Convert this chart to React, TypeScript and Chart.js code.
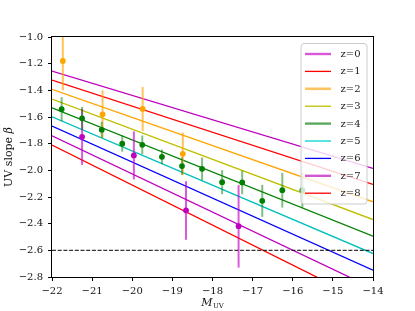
import React, { useEffect, useRef } from "react";
import { Chart, registerables } from "chart.js";

Chart.register(...registerables);

// ---- data ----
const xTicks = [-22, -21, -20, -19, -18, -17, -16, -15, -14];
const yTicks = [-2.8, -2.6, -2.4, -2.2, -2.0, -1.8, -1.6, -1.4, -1.2, -1.0];

const lineLabels = ["z=0", "z=1", "z=2", "z=3", "z=4", "z=5", "z=6", "z=7", "z=8"];
const lineM = [-22, -14];
const lineBetaStart = [-1.255, -1.323, -1.393, -1.465, -1.531, -1.598, -1.668, -1.741, -1.811];
const lineBetaEnd = [-1.986, -2.106, -2.236, -2.369, -2.494, -2.624, -2.749, -2.885, -3.011];

const dashedBeta = -2.6;

const greenM = [-21.76, -21.25, -20.76, -20.25, -19.75, -19.26, -18.76, -18.26, -17.76, -17.26, -16.76, -16.26, -15.76];
const greenBeta = [-1.541, -1.61, -1.696, -1.8, -1.809, -1.899, -1.968, -1.989, -2.089, -2.091, -2.229, -2.149, -2.149];
const greenErr = [0.09, 0.085, 0.06, 0.06, 0.07, 0.055, 0.065, 0.085, 0.09, 0.088, 0.12, 0.13, 0.13];

const orangeM = [-21.73, -20.74, -19.74, -18.74];
const orangeBeta = [-1.18, -1.58, -1.54, -1.876];
const orangeErr = [0.22, 0.18, 0.165, 0.16];

const magentaM = [-21.25, -19.96, -18.66, -17.35];
const magentaBeta = [-1.749, -1.888, -2.301, -2.419];
const magentaErr = [0.21, 0.18, 0.22, 0.31];

// ---- styles ----
const lineColors = [
  "rgb(191,0,191)",
  "rgb(255,0,0)",
  "rgb(255,165,0)",
  "rgb(191,191,0)",
  "rgb(0,128,0)",
  "rgb(0,191,191)",
  "rgb(0,0,255)",
  "rgb(191,0,191)",
  "rgb(255,0,0)",
];
const legendHandle = [
  { w: 2.4, c: "rgba(210,60,210,0.85)" },
  { w: 1.3, c: "rgb(255,0,0)" },
  { w: 2.6, c: "rgba(255,190,80,0.9)" },
  { w: 1.3, c: "rgb(191,191,0)" },
  { w: 2.4, c: "rgba(40,140,40,0.75)" },
  { w: 1.3, c: "rgb(0,210,210)" },
  { w: 1.3, c: "rgb(0,0,255)" },
  { w: 2.4, c: "rgba(200,60,200,0.85)" },
  { w: 1.3, c: "rgb(255,0,0)" },
];

const FONT = "'DejaVu Serif', serif";

const fmt = (v: number, dec: number) => {
  const r = Number(v.toFixed(dec));
  const s = Math.abs(r).toFixed(dec);
  return r < 0 ? "\u2212" + s : s;
};

const pts = (xs: number[], ys: number[]) => xs.map((x, i) => ({ x, y: ys[i] }));

const errorSets: Record<number, { xs: number[]; ys: number[]; es: number[]; color: string }> = {
  0: { xs: greenM, ys: greenBeta, es: greenErr, color: "rgba(0,128,0,0.5)" },
  1: { xs: orangeM, ys: orangeBeta, es: orangeErr, color: "rgba(255,165,0,0.65)" },
  2: { xs: magentaM, ys: magentaBeta, es: magentaErr, color: "rgba(200,0,200,0.65)" },
};

const errorBarPlugin = {
  id: "errorBars",
  beforeDatasetDraw(chart: any, args: any) {
    const set = errorSets[args.index];
    if (!set) return;
    const { ctx, chartArea, scales } = chart;
    ctx.save();
    ctx.beginPath();
    ctx.rect(chartArea.left, chartArea.top, chartArea.right - chartArea.left, chartArea.bottom - chartArea.top);
    ctx.clip();
    ctx.strokeStyle = set.color;
    ctx.lineWidth = 2;
    set.xs.forEach((x, i) => {
      const px = scales.x.getPixelForValue(x);
      const y1 = scales.y.getPixelForValue(set.ys[i] + set.es[i]);
      const y2 = scales.y.getPixelForValue(set.ys[i] - set.es[i]);
      ctx.beginPath();
      ctx.moveTo(px, y1);
      ctx.lineTo(px, y2);
      ctx.stroke();
    });
    ctx.restore();
  },
};

const decorPlugin = {
  id: "decor",
  afterDatasetsDraw(chart: any) {
    const { ctx, chartArea } = chart;
    const { left, right, top, bottom } = chartArea;
    ctx.save();
    // frame
    ctx.strokeStyle = "#000";
    ctx.lineWidth = 1;
    ctx.strokeRect(Math.round(left) - 0.5, Math.round(top) - 0.5, right - left + 1, bottom - top + 1);

    // legend
    const lx = 301, ly = 43.5, lw = 66, lh = 160.5, r = 3;
    ctx.beginPath();
    ctx.moveTo(lx + r, ly);
    ctx.lineTo(lx + lw - r, ly);
    ctx.arcTo(lx + lw, ly, lx + lw, ly + r, r);
    ctx.lineTo(lx + lw, ly + lh - r);
    ctx.arcTo(lx + lw, ly + lh, lx + lw - r, ly + lh, r);
    ctx.lineTo(lx + r, ly + lh);
    ctx.arcTo(lx, ly + lh, lx, ly + lh - r, r);
    ctx.lineTo(lx, ly + r);
    ctx.arcTo(lx, ly, lx + r, ly, r);
    ctx.closePath();
    ctx.fillStyle = "rgba(255,255,255,0.8)";
    ctx.fill();
    ctx.strokeStyle = "rgb(204,204,204)";
    ctx.lineWidth = 1;
    ctx.stroke();

    ctx.font = `10px ${FONT}`;
    ctx.textBaseline = "middle";
    ctx.textAlign = "left";
    lineLabels.forEach((lab, i) => {
      const yy = 54 + i * 17.4;
      ctx.strokeStyle = legendHandle[i].c;
      ctx.lineWidth = legendHandle[i].w;
      ctx.beginPath();
      ctx.moveTo(305, yy);
      ctx.lineTo(331, yy);
      ctx.stroke();
      ctx.fillStyle = "#222";
      ctx.fillText(lab, 340.5, yy + 0.5);
    });
    ctx.restore();
  },
  afterDraw(chart: any) {
    const { ctx, chartArea } = chart;
    ctx.save();
    ctx.fillStyle = "#111";
    ctx.textBaseline = "middle";
    // y title
    ctx.translate(9, (chartArea.top + chartArea.bottom) / 2);
    ctx.rotate(-Math.PI / 2);
    ctx.font = `11px ${FONT}`;
    const t1 = "UV slope ";
    const w1 = ctx.measureText(t1).width;
    ctx.font = `italic 11px ${FONT}`;
    const w2 = ctx.measureText("\u03b2").width;
    const start = -(w1 + w2) / 2;
    ctx.font = `11px ${FONT}`;
    ctx.textAlign = "left";
    ctx.fillText(t1, start, 0);
    ctx.font = `italic 11px ${FONT}`;
    ctx.fillText("\u03b2", start + w1, 0);
    ctx.restore();

    // x title
    ctx.save();
    ctx.fillStyle = "#111";
    ctx.textBaseline = "alphabetic";
    ctx.textAlign = "left";
    ctx.font = `italic 11px ${FONT}`;
    const mw = ctx.measureText("M").width;
    ctx.font = `7px ${FONT}`;
    const sw = ctx.measureText("UV").width;
    const cx = (chartArea.left + chartArea.right) / 2;
    const sx = cx - (mw + sw + 0.5) / 2;
    ctx.font = `italic 11px ${FONT}`;
    ctx.fillText("M", sx, 306);
    ctx.font = `7px ${FONT}`;
    ctx.fillText("UV", sx + mw + 0.5, 308);
    ctx.restore();
  },
};

export default function App() {
  const ref = useRef<HTMLCanvasElement | null>(null);

  useEffect(() => {
    if (!ref.current) return;
    const lineDatasets = lineLabels.map((lab, i) => ({
      label: lab,
      data: pts(lineM, [lineBetaStart[i], lineBetaEnd[i]]),
      showLine: true,
      borderColor: lineColors[i],
      backgroundColor: lineColors[i],
      borderWidth: 1.3,
      pointRadius: 0,
      pointHoverRadius: 0,
    }));
    const chart = new Chart(ref.current, {
      type: "scatter",
      data: {
        datasets: [
          {
            label: "green",
            data: pts(greenM, greenBeta),
            pointRadius: 2.9,
            pointBackgroundColor: "rgb(0,128,0)",
            pointBorderColor: "rgb(0,128,0)",
            pointBorderWidth: 0,
          },
          {
            label: "orange",
            data: pts(orangeM, orangeBeta),
            pointRadius: 2.9,
            pointBackgroundColor: "rgb(255,165,0)",
            pointBorderColor: "rgb(255,165,0)",
            pointBorderWidth: 0,
          },
          {
            label: "magenta",
            data: pts(magentaM, magentaBeta),
            pointRadius: 2.9,
            pointBackgroundColor: "rgb(191,0,191)",
            pointBorderColor: "rgb(191,0,191)",
            pointBorderWidth: 0,
          },
          {
            label: "floor",
            data: pts(lineM, [dashedBeta, dashedBeta]),
            showLine: true,
            borderColor: "rgba(0,0,0,0.8)",
            borderWidth: 1.2,
            borderDash: [4, 1.7],
            pointRadius: 0,
          },
          ...lineDatasets,
        ],
      } as any,
      options: {
        animation: false,
        responsive: false,
        devicePixelRatio: 1,
        layout: { padding: { left: 0, right: 42, top: 37, bottom: 0 } },
        plugins: { legend: { display: false }, tooltip: { enabled: false } },
        events: [],
        scales: {
          x: {
            type: "linear",
            min: -22,
            max: -14,
            afterBuildTicks: (s: any) => {
              s.ticks = xTicks.map((v) => ({ value: v }));
            },
            afterFit: (s: any) => {
              s.height = 34;
            },
            border: { display: false },
            grid: { display: true, drawOnChartArea: false, drawTicks: true, tickLength: 4, color: "#000", lineWidth: 1 },
            ticks: {
              autoSkip: false,
              maxRotation: 0,
              padding: 4,
              color: "#111",
              font: { family: "DejaVu Serif", size: 10 },
              callback: (v: any) => fmt(Number(v), 0),
            },
          },
          y: {
            type: "linear",
            min: -2.8,
            max: -1.0,
            afterBuildTicks: (s: any) => {
              s.ticks = yTicks.map((v) => ({ value: v }));
            },
            afterFit: (s: any) => {
              s.width = 52;
            },
            border: { display: false },
            grid: { display: true, drawOnChartArea: false, drawTicks: true, tickLength: 4, color: "#000", lineWidth: 1 },
            ticks: {
              autoSkip: false,
              padding: 5,
              color: "#111",
              font: { family: "DejaVu Serif", size: 10 },
              callback: (v: any) => fmt(Number(v), 1),
            },
          },
        },
      } as any,
      plugins: [errorBarPlugin, decorPlugin],
    });
    return () => chart.destroy();
  }, []);

  return (
    <div style={{ position: "fixed", left: 0, top: 0, width: 415, height: 311, background: "#fff" }}>
      <canvas ref={ref} width={415} height={311} style={{ display: "block", width: 415, height: 311 }} />
    </div>
  );
}
